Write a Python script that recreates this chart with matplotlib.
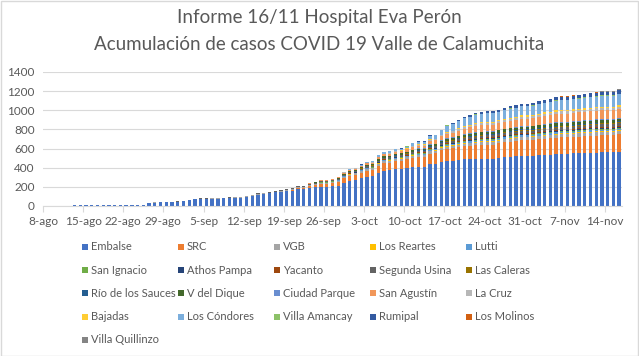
import numpy as np
import pandas as pd
import matplotlib
matplotlib.use('Agg')
import matplotlib.pyplot as plt
from matplotlib.patches import Rectangle

plt.rcParams['font.family'] = ['Lato', 'DejaVu Sans']

# casos acumulados por localidad, del 8-ago al 16-nov (un valor por dia)
embalse = [0, 0, 5, 5, 5, 6, 6, 6, 6, 7, 7, 7, 8, 8, 8, 8, 8,
           15, 28, 36, 40, 42, 42, 45,
           49, 58, 68, 74, 74, 78, 78, 80, 84, 88, 88, 98, 104, 118, 124, 132,
           142, 146, 154, 157, 178, 178, 190, 196, 200, 200, 205, 212,
           245, 262, 272, 288, 305, 310, 350, 370, 374, 385, 390, 398, 405, 410, 410, 440, 444, 462, 470, 474, 480, 486,
           486, 490, 494, 496, 496, 505, 514, 516, 520, 525, 525, 527, 531, 535, 538, 542, 545, 545, 549, 551, 553, 556, 558, 560, 560, 560, 566]
src = [0, 0, 0, 0, 0, 0, 0, 0, 0, 0, 0, 0, 0, 0, 0, 0, 0, 0, 0, 0, 0, 0, 0, 0, 0, 0, 0, 0, 0, 0, 0, 0, 0, 0, 0, 0, 0, 0, 0, 0,
       1, 4, 5, 8, 10, 10, 14, 22, 28, 28, 32, 35,
       45, 50, 52, 58, 62, 64, 72, 76, 78, 82, 84, 88, 95, 98, 98, 108, 110, 118, 125, 128, 132, 138,
       140, 143, 145, 146, 146, 149, 152, 155, 157, 160, 160, 161, 164, 166, 168, 170, 171, 171, 173, 174, 175, 177, 178, 179, 179, 179, 182]
vgb = [0, 0, 0, 0, 0, 0, 0, 0, 0, 0, 0, 0, 0, 0, 0, 0, 0, 0, 2, 2, 2, 2, 2, 2, 2, 3, 3, 4, 4, 4, 4, 4, 4, 5, 5, 5, 6, 7, 7, 8,
       8, 8, 9, 9, 10, 10, 12, 13, 14, 14, 14, 15,
       16, 17, 17, 18, 19, 19, 20, 21, 21, 22, 22, 22, 23, 24, 24, 25, 25, 26, 26, 27, 27, 28,
       29, 29, 29, 30, 30, 30, 30, 31, 31, 31, 31, 31, 32, 32, 32, 33, 33, 33, 33, 34, 34, 34, 34, 34, 34, 34, 35]
los_reartes = [0, 0, 0, 0, 0, 0, 0, 0, 0, 0, 0, 0, 0, 0, 0, 0, 0, 0, 0, 0, 0, 0, 0, 0, 0, 0, 0, 0, 0, 0, 0, 0, 0, 0, 0, 0, 0, 0, 0, 0,
               0, 0, 0, 0, 0, 0, 1, 1, 1, 1, 1, 2,
               2, 2, 2, 3, 3, 3, 3, 4, 4, 4, 4, 4, 5, 5, 5, 5, 5, 6, 6, 6, 7, 7,
               7, 8, 8, 8, 8, 8, 8, 8, 8, 9, 9, 9, 9, 9, 9, 9, 9, 9, 9, 9, 10, 10, 10, 10, 10, 10, 10]
lutti = [0, 0, 0, 0, 0, 0, 0, 0, 0, 0, 0, 0, 0, 0, 0, 0, 0, 0, 0, 0, 0, 0, 0, 0, 0, 0, 0, 0, 0, 0, 0, 0, 0, 0, 0, 0, 0, 0, 0, 0,
         0, 0, 0, 0, 0, 0, 1, 1, 2, 2, 2, 3,
         3, 4, 4, 4, 5, 5, 5, 6, 6, 6, 6, 7, 7, 8, 8, 8, 8, 9, 10, 10, 11, 11,
         12, 12, 12, 12, 12, 12, 12, 13, 13, 13, 13, 13, 13, 14, 14, 14, 14, 14, 14, 14, 14, 15, 15, 15, 15, 15, 15]
san_ignacio = [0, 0, 0, 0, 0, 0, 0, 0, 0, 0, 0, 0, 0, 0, 0, 0, 0, 0, 0, 0, 0, 0, 0, 0, 0, 0, 0, 0, 0, 0, 0, 0, 0, 0, 0, 0, 0, 0, 0, 0,
               0, 0, 0, 0, 0, 0, 1, 1, 1, 1, 2, 2,
               2, 2, 3, 3, 3, 3, 3, 4, 4, 4, 4, 4, 5, 5, 5, 5, 5, 6, 6, 6, 7, 7,
               7, 8, 8, 8, 8, 8, 8, 8, 8, 8, 8, 8, 9, 9, 9, 9, 9, 9, 9, 10, 10, 10, 10, 10, 10, 10, 10]
athos_pampa = [0, 0, 0, 0, 0, 0, 0, 0, 0, 0, 0, 0, 0, 0, 0, 0, 0, 0, 0, 0, 0, 0, 0, 0, 0, 0, 0, 0, 0, 0, 0, 0, 0, 0, 0, 0, 0, 0, 0, 0,
               0, 0, 0, 0, 0, 0, 1, 1, 1, 1, 1, 2,
               2, 2, 2, 2, 3, 3, 3, 3, 3, 4, 4, 4, 4, 5, 5, 5, 5, 6, 6, 6, 7, 7,
               7, 7, 8, 8, 8, 8, 8, 8, 8, 8, 8, 8, 9, 9, 9, 9, 9, 9, 9, 9, 9, 9, 10, 10, 10, 10, 10]
yacanto = [0, 0, 0, 0, 0, 0, 0, 0, 0, 0, 0, 0, 0, 0, 0, 0, 0, 0, 0, 0, 0, 0, 0, 0, 0, 0, 0, 0, 0, 0, 0, 0, 0, 0, 0, 0, 0, 0, 0, 0,
           0, 0, 0, 0, 0, 0, 0, 0, 1, 1, 1, 1,
           1, 1, 2, 2, 2, 2, 3, 3, 3, 3, 3, 4, 4, 4, 4, 5, 5, 5, 6, 6, 6, 7,
           8, 8, 8, 8, 8, 8, 8, 8, 8, 9, 9, 9, 9, 9, 9, 9, 9, 9, 10, 10, 10, 10, 10, 10, 10, 10, 10]
segunda_usina = [0, 0, 0, 0, 0, 0, 0, 0, 0, 0, 0, 0, 0, 0, 0, 0, 0, 0, 0, 0, 0, 1, 1, 1, 1, 1, 2, 2, 2, 2, 2, 3, 3, 4, 4, 5, 5, 7, 8, 9,
                 9, 9, 9, 9, 9, 9, 10, 10, 11, 11, 11, 12,
                 12, 13, 13, 13, 14, 14, 14, 15, 15, 15, 15, 16, 16, 17, 17, 17, 17, 18, 18, 19, 19, 20,
                 20, 21, 21, 21, 21, 22, 22, 22, 22, 22, 22, 22, 23, 23, 23, 23, 23, 23, 24, 24, 24, 24, 24, 24, 24, 24, 25]
las_caleras = [0, 0, 0, 0, 0, 0, 0, 0, 0, 0, 0, 0, 0, 0, 0, 0, 0, 0, 0, 0, 0, 0, 0, 0, 0, 0, 0, 0, 0, 0, 0, 0, 0, 0, 0, 0, 0, 0, 0, 0,
               0, 0, 0, 0, 0, 0, 0, 0, 0, 0, 0, 0,
               0, 0, 0, 1, 1, 1, 1, 2, 2, 2, 2, 2, 3, 3, 3, 3, 3, 4, 4, 5, 5, 6,
               6, 7, 7, 7, 7, 7, 7, 8, 8, 8, 8, 8, 8, 8, 9, 9, 9, 9, 9, 9, 9, 9, 9, 10, 10, 10, 10]
rio_sauces = [0, 0, 0, 0, 0, 0, 0, 0, 0, 0, 0, 0, 0, 0, 0, 0, 0, 0, 0, 0, 0, 0, 0, 0, 0, 0, 0, 0, 0, 0, 0, 0, 0, 0, 0, 0, 0, 0, 0, 0,
              0, 0, 0, 0, 0, 0, 0, 0, 0, 0, 0, 0,
              0, 0, 0, 1, 1, 1, 1, 1, 1, 2, 2, 2, 2, 3, 3, 3, 3, 4, 4, 5, 5, 6,
              7, 7, 7, 7, 7, 7, 8, 8, 8, 8, 8, 8, 8, 9, 9, 9, 9, 9, 9, 9, 10, 10, 10, 10, 10, 10, 10]
v_dique = [0, 0, 0, 0, 0, 0, 0, 0, 0, 0, 0, 0, 0, 0, 0, 0, 0, 0, 0, 0, 0, 0, 0, 0, 0, 0, 0, 0, 0, 0, 0, 0, 0, 0, 0, 0, 0, 0, 0, 0,
           0, 0, 0, 1, 1, 1, 4, 5, 6, 6, 6, 8,
           10, 10, 10, 11, 12, 12, 13, 13, 13, 14, 14, 15, 16, 17, 17, 18, 18, 19, 20, 21, 21, 22,
           23, 24, 24, 24, 24, 25, 25, 26, 26, 27, 27, 27, 27, 28, 28, 29, 29, 29, 29, 29, 29, 29, 29, 29, 29, 29, 30]
ciudad_parque = [0, 0, 0, 0, 0, 0, 0, 0, 0, 0, 0, 0, 0, 0, 0, 0, 0, 0, 0, 0, 0, 0, 0, 0, 0, 0, 0, 0, 0, 0, 0, 0, 0, 0, 0, 0, 0, 0, 0, 0,
                 0, 0, 0, 0, 0, 0, 0, 0, 0, 0, 0, 0,
                 0, 0, 0, 0, 1, 1, 1, 1, 1, 2, 2, 2, 3, 3, 3, 4, 4, 4, 5, 5, 6, 6,
                 6, 7, 7, 7, 7, 7, 7, 7, 8, 8, 8, 8, 8, 8, 8, 9, 9, 9, 9, 9, 9, 10, 10, 10, 10, 10, 10]
san_agustin = [0, 0, 0, 0, 0, 0, 0, 0, 0, 0, 0, 0, 0, 0, 0, 0, 0, 0, 0, 0, 0, 0, 0, 0, 0, 0, 0, 0, 0, 0, 0, 0, 0, 0, 0, 0, 0, 0, 0, 0,
               0, 0, 0, 0, 0, 0, 2, 3, 5, 5, 5, 6,
               12, 13, 13, 15, 16, 16, 19, 21, 21, 21, 21, 24, 28, 29, 29, 35, 35, 40, 47, 47, 53, 58,
               63, 67, 69, 69, 69, 69, 71, 73, 73, 76, 76, 78, 79, 82, 84, 87, 87, 87, 87, 87, 87, 88, 88, 90, 90, 90, 90]
la_cruz = [0, 0, 0, 0, 0, 0, 0, 0, 0, 0, 0, 0, 0, 0, 0, 0, 0, 0, 0, 0, 0, 0, 0, 0, 0, 0, 0, 0, 0, 0, 0, 0, 0, 0, 0, 0, 0, 0, 0, 0,
           0, 0, 0, 0, 0, 0, 0, 0, 1, 1, 1, 1,
           1, 2, 2, 3, 3, 3, 4, 5, 5, 5, 5, 7, 8, 9, 9, 10, 10, 12, 14, 15, 16, 17,
           18, 19, 19, 20, 20, 20, 20, 21, 21, 22, 22, 22, 22, 23, 23, 24, 24, 24, 24, 24, 24, 24, 24, 24, 24, 24, 25]
bajadas = [0, 0, 0, 0, 0, 0, 0, 0, 0, 0, 0, 0, 0, 0, 0, 0, 0, 0, 0, 0, 0, 0, 0, 0, 0, 0, 0, 0, 0, 0, 0, 0, 0, 0, 0, 0, 0, 0, 0, 0,
           0, 0, 0, 0, 0, 0, 0, 0, 0, 0, 0, 0,
           0, 0, 0, 1, 1, 1, 2, 2, 2, 3, 3, 3, 4, 4, 4, 5, 5, 6, 7, 8, 9, 10,
           10, 11, 11, 11, 11, 11, 12, 12, 12, 12, 12, 12, 13, 13, 13, 13, 14, 14, 14, 14, 14, 14, 14, 14, 14, 14, 15]
los_condores = [0, 0, 0, 0, 0, 0, 0, 0, 0, 0, 0, 0, 0, 0, 0, 0, 0, 0, 0, 0, 0, 0, 0, 0, 0, 0, 0, 0, 0, 0, 0, 0, 0, 0, 0, 0, 0, 0, 0, 0,
                0, 0, 0, 0, 0, 0, 0, 0, 0, 0, 0, 0,
                7, 8, 8, 10, 10, 10, 15, 16, 17, 17, 17, 19, 27, 27, 27, 36, 37, 45, 67, 68, 72, 80,
                82, 85, 86, 87, 87, 88, 89, 92, 93, 95, 95, 96, 98, 100, 101, 104, 105, 105, 106, 107, 109, 110, 111, 112, 112, 112, 115]
villa_amancay = [0, 0, 0, 0, 0, 0, 0, 0, 0, 0, 0, 0, 0, 0, 0, 0, 0, 0, 0, 0, 0, 0, 0, 0, 0, 0, 0, 0, 0, 0, 0, 0, 0, 0, 0, 0, 0, 0, 0, 0,
                 0, 0, 0, 0, 0, 0, 0, 0, 0, 0, 0, 0,
                 0, 0, 0, 0, 0, 0, 0, 1, 1, 1, 1, 1, 1, 1, 1, 2, 2, 2, 2, 3, 3, 3,
                 3, 3, 3, 3, 3, 3, 3, 3, 4, 4, 4, 4, 4, 4, 4, 4, 4, 4, 4, 4, 5, 5, 5, 5, 5, 5, 5]
rumipal = [0, 0, 0, 0, 0, 0, 0, 0, 0, 0, 0, 0, 0, 0, 0, 0, 0, 0, 0, 0, 0, 0, 0, 0, 0, 0, 0, 0, 0, 0, 0, 0, 0, 0, 0, 0, 0, 0, 0, 0,
           0, 0, 0, 0, 0, 0, 0, 0, 0, 0, 0, 0,
           0, 0, 0, 1, 1, 1, 2, 2, 2, 2, 2, 3, 4, 5, 5, 6, 6, 7, 8, 9, 10, 12,
           14, 16, 17, 18, 18, 19, 20, 22, 23, 24, 24, 25, 26, 27, 28, 29, 30, 30, 31, 32, 33, 33, 34, 34, 34, 34, 35]
los_molinos = [0, 0, 0, 0, 0, 0, 0, 0, 0, 0, 0, 0, 0, 0, 0, 0, 0, 0, 0, 0, 0, 0, 0, 0, 0, 0, 0, 0, 0, 0, 0, 0, 0, 0, 0, 0, 0, 0, 0, 0,
               0, 0, 0, 0, 0, 0, 0, 0, 0, 0, 0, 0,
               0, 0, 0, 0, 0, 0, 0, 0, 0, 0, 0, 0, 0, 0, 0, 0, 0, 0, 0, 0, 0, 0,
               0, 0, 0, 0, 0, 1, 1, 1, 1, 1, 1, 1, 2, 3, 3, 3, 3, 3, 4, 4, 5, 5, 6, 6, 6, 6, 8]
villa_quillinzo = [0, 0, 0, 0, 0, 0, 0, 0, 0, 0, 0, 0, 0, 0, 0, 0, 0, 0, 0, 0, 0, 0, 0, 0, 0, 0, 0, 0, 0, 0, 0, 0, 0, 0, 0, 0, 0, 0, 0, 0,
                   0, 0, 0, 0, 0, 0, 0, 0, 0, 0, 0, 0,
                   0, 0, 0, 0, 0, 0, 0, 0, 0, 0, 0, 0, 0, 0, 0, 0, 0, 0, 0, 0, 0, 0,
                   0, 0, 0, 0, 0, 0, 0, 0, 0, 0, 0, 0, 0, 0, 1, 1, 1, 1, 1, 1, 1, 2, 2, 2, 2, 2, 3]

names = ['Embalse', 'SRC', 'VGB', 'Los Reartes', 'Lutti',
         'San Ignacio', 'Athos Pampa', 'Yacanto', 'Segunda Usina', 'Las Caleras',
         'Río de los Sauces', 'V del Dique', 'Ciudad Parque', 'San Agustín', 'La Cruz',
         'Bajadas', 'Los Cóndores', 'Villa Amancay', 'Rumipal', 'Los Molinos',
         'Villa Quillinzo']
series = [embalse, src, vgb, los_reartes, lutti,
          san_ignacio, athos_pampa, yacanto, segunda_usina, las_caleras,
          rio_sauces, v_dique, ciudad_parque, san_agustin, la_cruz,
          bajadas, los_condores, villa_amancay, rumipal, los_molinos,
          villa_quillinzo]
colors = ['#4472C4', '#ED7D31', '#A5A5A5', '#FFC000', '#5B9BD5',
          '#70AD47', '#264478', '#9E480E', '#636363', '#997300',
          '#255E91', '#43682B', '#698ED0', '#F1975A', '#B7B7B7',
          '#FFCD33', '#7CAFDD', '#8CC168', '#335AA1', '#D26012',
          '#848484']

dates = pd.date_range('2020-08-08', '2020-11-16')
meses = {8: 'ago', 9: 'sep', 10: 'oct', 11: 'nov'}
x = np.arange(len(dates))

W, H = 639, 356
fig = plt.figure(figsize=(W / 100, H / 100), dpi=100)
ax = fig.add_axes([43 / W, 1 - 206 / H, (622 - 43) / W, (206 - 72) / H])

bottom = np.zeros(len(dates))
for vals, c in zip(series, colors):
    vals = np.array(vals)
    ax.bar(x, vals, 0.58, bottom=bottom, color=c, linewidth=0, zorder=2)
    bottom += vals

ax.set_xlim(-0.5, len(dates) - 0.5)
ax.set_ylim(0, 1400)
ax.set_yticks(range(0, 1401, 200))
ax.yaxis.grid(True, color='#D9D9D9', linewidth=0.8, zorder=0)
ax.set_axisbelow(True)

ticks = x[::7]
ax.set_xticks(ticks - 0.5)
ax.set_xticklabels(['%d-%s' % (dates[i].day, meses[dates[i].month]) for i in ticks])
ax.tick_params(axis='x', length=4, color='#D9D9D9', labelsize=8.5, labelcolor='#595959', pad=3)
ax.tick_params(axis='y', length=0, labelsize=8.5, labelcolor='#595959', pad=6)
for s in ['top', 'right', 'left']:
    ax.spines[s].set_visible(False)
ax.spines['bottom'].set_color('#D9D9D9')

fig.text(0.5, 1 - 18 / H, 'Informe 16/11 Hospital Eva Perón', ha='center', va='center',
         fontsize=13.5, color='#595959')
fig.text(0.5, 1 - 44 / H, 'Acumulación de casos COVID 19 Valle de Calamuchita', ha='center', va='center',
         fontsize=13.5, color='#595959')

# leyenda en filas de 5, como la de Excel
for k, (name, c) in enumerate(zip(names, colors)):
    row, col = divmod(k, 5)
    px = 85 + col * 96
    py = 247 + row * 23.2
    fig.add_artist(Rectangle(((px - 3) / W, 1 - (py + 3) / H), 6 / W, 6 / H,
                             transform=fig.transFigure, color=c, linewidth=0))
    fig.text((px + 6) / W, 1 - py / H, name, ha='left', va='center',
             fontsize=8, color='#595959')

fig.add_artist(Rectangle((0.5 / W, 0.5 / H), (W - 1.5) / W, (H - 1.5) / H, transform=fig.transFigure,
                         fill=False, edgecolor='#D9D9D9', linewidth=1))

fig.savefig('out.png', dpi=100)
